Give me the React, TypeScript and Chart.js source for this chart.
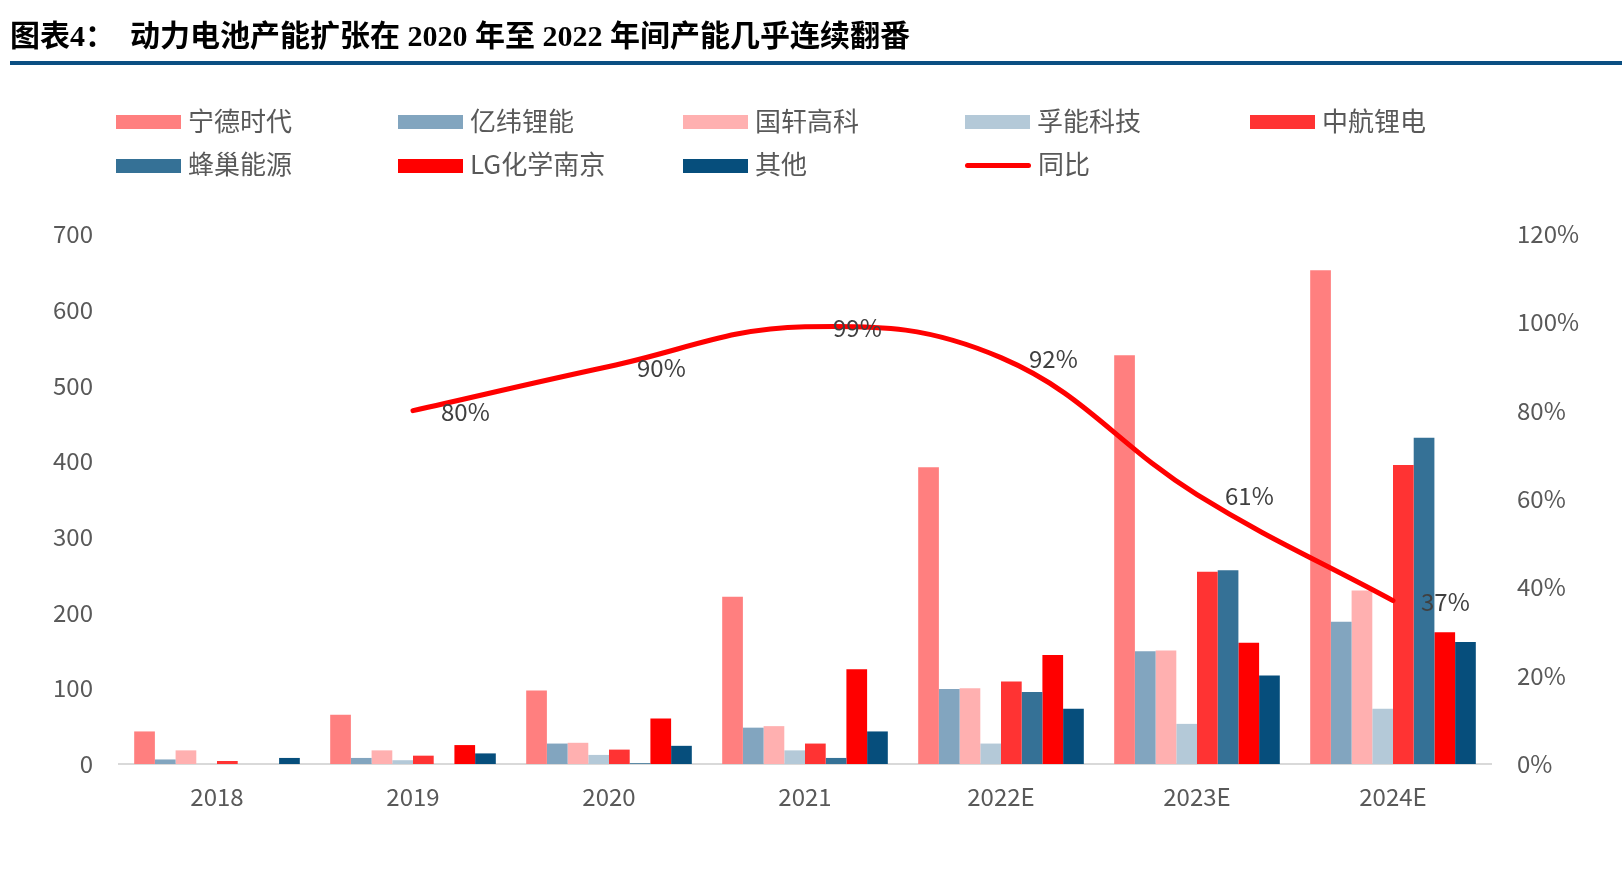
import React, { useEffect, useRef } from "react";
import { Chart, registerables } from "chart.js";

Chart.register(...registerables);

const categories = ["2018", "2019", "2020", "2021", "2022E", "2023E", "2024E"];
const catl = [43, 65, 97, 221, 392, 540, 652];
const eve = [6, 8, 27, 48, 99, 149, 188];
const gotion = [18, 18, 28, 50, 100, 150, 229];
const farasis = [0, 5, 12, 18, 27, 53, 73];
const calb = [4, 11, 19, 27, 109, 254, 395];
const svolt = [0, 0, 1, 8, 95, 256, 431];
const lgNanjing = [0, 25, 60, 125, 144, 160, 174];
const others = [8, 14, 24, 43, 73, 117, 161];
const yoy = [null, 0.8, 0.9, 0.99, 0.92, 0.61, 0.37];

const barNames = ["宁德时代", "亿纬锂能", "国轩高科", "孚能科技", "中航锂电", "蜂巢能源", "LG化学南京", "其他"];
const barValues = [catl, eve, gotion, farasis, calb, svolt, lgNanjing, others];
const barColors = ["#FF7F7F", "#82A5BF", "#FFB0B0", "#B4C9D8", "#FF3333", "#357196", "#FF0000", "#064E7C"];
const lineName = "同比";
const lineColor = "#FF0000";

const leftMax = 700;
const leftStep = 100;
const rightMax = 1.2;
const rightStep = 0.2;

const FONT = '"Noto Sans CJK SC", "Noto Sans", sans-serif';

const labelPlugin = {
  id: "yoyLabels",
  afterDatasetsDraw(chart: any) {
    const ctx = chart.ctx;
    chart.data.datasets.forEach((ds: any, i: number) => {
      if (ds.type !== "line") return;
      const meta = chart.getDatasetMeta(i);
      meta.data.forEach((pt: any, j: number) => {
        const v = ds.data[j];
        if (v == null) return;
        ctx.save();
        ctx.font = `24px ${FONT}`;
        ctx.fillStyle = "#404040";
        ctx.textAlign = "left";
        ctx.textBaseline = "middle";
        ctx.fillText(Math.round(v * 100) + "%", pt.x + 28, pt.y + 1);
        ctx.restore();
      });
    });
  },
};

export default function App() {
  const ref = useRef<HTMLCanvasElement | null>(null);

  useEffect(() => {
    if (!ref.current) return;
    const datasets: any[] = barNames.map((name, i) => ({
      type: "bar",
      label: name,
      data: barValues[i],
      backgroundColor: barColors[i],
      borderWidth: 0,
      yAxisID: "y",
      order: 1,
      barPercentage: 1,
      categoryPercentage: 0.845,
    }));
    datasets.push({
      type: "line",
      label: lineName,
      data: yoy,
      borderColor: lineColor,
      backgroundColor: lineColor,
      borderWidth: 5,
      pointRadius: 0,
      tension: 0.4,
      borderCapStyle: "round",
      yAxisID: "y1",
      order: 0,
    });

    const tickFont = { family: FONT, size: 24 };
    const chart = new Chart(ref.current, {
      type: "bar",
      data: { labels: categories, datasets },
      options: {
        animation: false,
        responsive: true,
        maintainAspectRatio: false,
        layout: { padding: { top: 234, bottom: 57, left: 0, right: 0 } },
        plugins: { legend: { display: false }, tooltip: { enabled: false } },
        scales: {
          x: {
            grid: { display: false, drawTicks: false },
            border: { display: true, color: "#D9D9D9", width: 2 },
            ticks: { font: tickFont, color: "#595959", padding: 18 },
            afterFit: (s: any) => {
              s.height = 60;
            },
          },
          y: {
            position: "left",
            min: 0,
            max: leftMax,
            grid: { display: false, drawTicks: false },
            border: { display: false },
            ticks: { stepSize: leftStep, font: tickFont, color: "#595959", padding: 26 },
            afterFit: (s: any) => {
              s.width = 119;
            },
          },
          y1: {
            position: "right",
            min: 0,
            max: rightMax,
            grid: { display: false, drawTicks: false },
            border: { display: false },
            ticks: {
              stepSize: rightStep,
              font: tickFont,
              color: "#595959",
              padding: 26,
              callback: (v: any) => Math.round(Number(v) * 100) + "%",
            },
            afterFit: (s: any) => {
              s.width = 131;
            },
          },
        },
      } as any,
      plugins: [labelPlugin],
    });
    return () => chart.destroy();
  }, []);

  const cols = [116, 398, 683, 965, 1250];
  const rows = [122, 165.5];
  const legendItems = [
    ...barNames.map((n, i) => ({ name: n, color: barColors[i], line: false })),
    { name: lineName, color: lineColor, line: true },
  ];

  return (
    <div style={{ position: "absolute", left: 0, top: 0, width: 1622, height: 881, overflow: "hidden", background: "#fff" }}>
      <div style={{ position: "absolute", left: 0, top: 0, width: 1622, height: 881 }}>
        <canvas ref={ref} />
      </div>
      <div
        style={{
          position: "absolute",
          left: 10,
          top: 16,
          height: 40,
          lineHeight: "40px",
          fontFamily: '"Liberation Serif", "Noto Sans CJK SC", serif',
          fontWeight: 700,
          fontSize: 30,
          color: "#000",
          whiteSpace: "pre",
        }}
      >
        <span>图表4：</span>
        <span style={{ marginLeft: 15 }}>动力电池产能扩张在 2020 年至 2022 年间产能几乎连续翻番</span>
      </div>
      <div style={{ position: "absolute", left: 10, top: 61, width: 1612, height: 4, background: "#0B4F82" }} />
      {legendItems.map((it, k) => {
        const c = k % 5;
        const r = Math.floor(k / 5);
        return (
          <div
            key={it.name}
            style={{
              position: "absolute",
              left: cols[c],
              top: rows[r] - 20,
              height: 40,
              display: "flex",
              alignItems: "center",
              fontFamily: FONT,
              fontSize: 26,
              color: "#595959",
              whiteSpace: "nowrap",
            }}
          >
            {it.line ? (
              <div style={{ width: 66, height: 5, borderRadius: 3, background: it.color }} />
            ) : (
              <div style={{ width: 65, height: 14, background: it.color }} />
            )}
            <span style={{ marginLeft: 7, position: "relative", top: -3 }}>{it.name}</span>
          </div>
        );
      })}
    </div>
  );
}
